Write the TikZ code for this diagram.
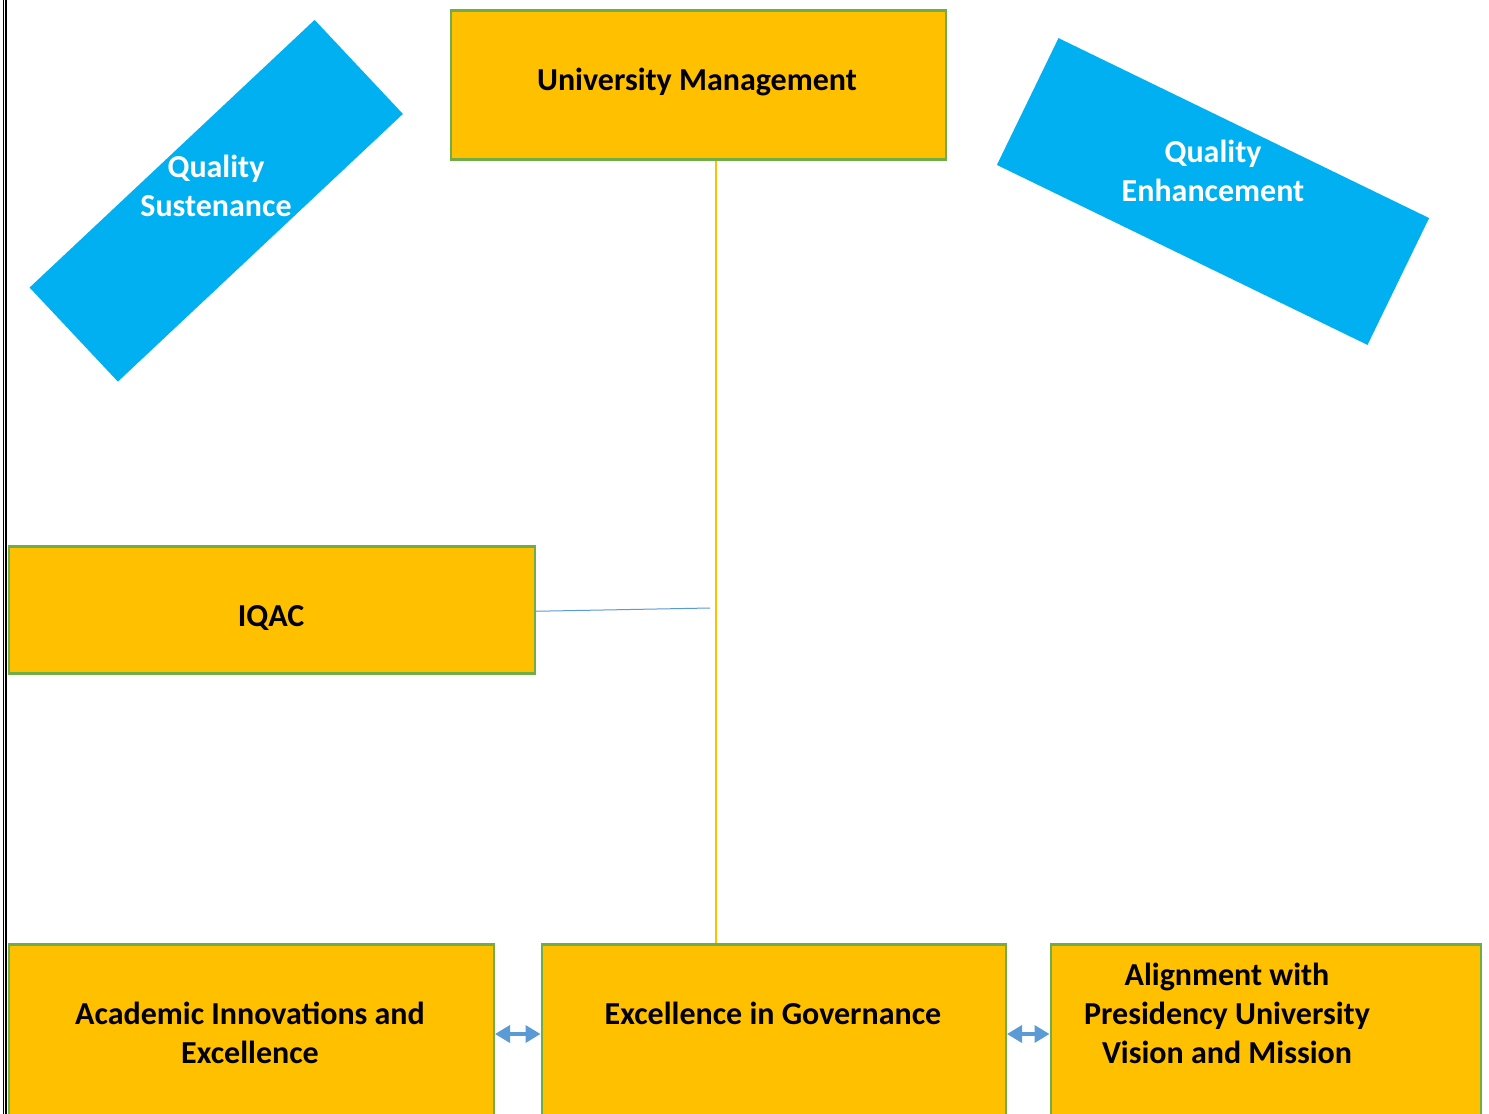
\documentclass[tikz,border=0pt]{standalone}
\usepackage{fontspec}
\setmainfont{Carlito}
\usetikzlibrary{arrows.meta}
\definecolor{boxorange}{HTML}{FFC000}
\definecolor{boxgreen}{HTML}{70AD47}
\definecolor{qblue}{HTML}{00B0F0}
\definecolor{linkblue}{HTML}{5B9BD5}
\begin{document}
\begin{tikzpicture}[x=1pt,y=-1pt,
 ybox/.style={draw=boxgreen, fill=boxorange, line width=2.5pt, rectangle, inner sep=0pt, anchor=north west},
 qbox/.style={fill=qblue, inner sep=0pt, rectangle},
 dark/.style={font=\fontsize{32}{39}\selectfont\bfseries, text=black, align=center, anchor=base, inner sep=0pt},
 light/.style={dark, text=white},
 dbl/.style={linkblue, line width=3.5pt, {Triangle[length=15pt,width=17pt]}-{Triangle[length=15pt,width=17pt]}},
 vline/.style={boxorange, line width=2pt},
 hline/.style={linkblue, line width=1pt}
]
\useasboundingbox (0,0) rectangle (1489,1114);
\clip (0,0) rectangle (1489,1114);
\fill[white] (0,0) rectangle (1489,1114);

% left page border
\draw[line width=1pt] (3.3,0) -- (3.3,1114);
\draw[line width=2pt] (5.7,0) -- (5.7,1114);

% rotated blue boxes
\node[qbox, rotate=43.2, minimum width=391pt, minimum height=129pt] (qs) at (216.25,200.75) {};
\node[qbox, rotate=-25.9, minimum width=412pt, minimum height=141pt] (qe) at (1213,191.5) {};
\node[light] (qst) at (216,216) {Quality\\Sustenance};
\node[light] (qet) at (1213,201) {Quality\\Enhancement};

% orange boxes
\node[ybox, minimum width=495pt, minimum height=149pt] (um) at (449.5,9) {};
\node[ybox, minimum width=526pt, minimum height=127pt] (iqac) at (7.5,545) {};
\node[ybox, minimum width=485pt, minimum height=190pt] (aie) at (7.5,943) {};
\node[ybox, minimum width=464pt, minimum height=190pt] (eg) at (540.5,943) {};
\node[ybox, minimum width=430pt, minimum height=190pt] (al) at (1049.5,943) {};

% texts
\node[dark] (umt) at (697,90) {University Management};
\node[dark] (iqt) at (271,626) {IQAC};
\node[dark] (aiet) at (250,1063) {Academic Innovations and\\Excellence};
\node[dark] (egt) at (773,1024) {Excellence in Governance};
\node[dark] (alt) at (1227,1063) {Alignment with\\Presidency University\\Vision and Mission};

% connectors
\coordinate (vx) at (716,0);
\draw[vline] (um.south -| vx) -- (eg.north -| vx);
\coordinate (iqend) at (710,608);
\draw[hline] (iqac.east) ++(0,1.5) -- (iqend);
\coordinate (a1) at (0,1034);
\draw[dbl] (aie.east |- a1) -- (eg.west |- a1);
\draw[dbl] (eg.east |- a1) -- (al.west |- a1);
\end{tikzpicture}
\end{document}
